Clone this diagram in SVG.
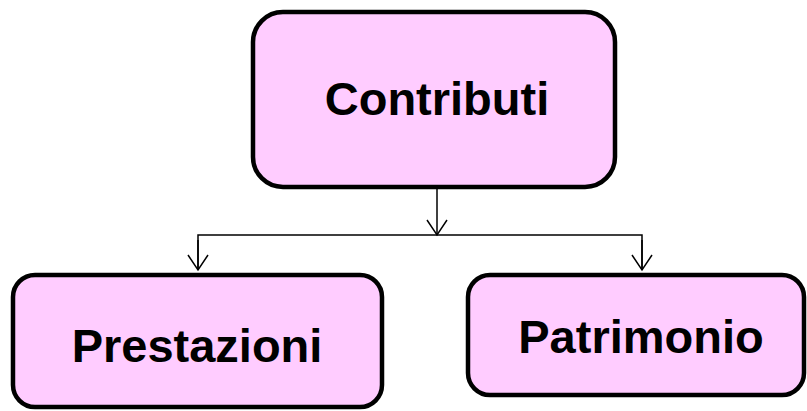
<svg xmlns="http://www.w3.org/2000/svg" width="807" height="411" viewBox="0 0 807 411">
<defs>
<style>
.box{fill:#ffccff;stroke:#000;stroke-width:4.5}
.lbl{font-family:"Liberation Sans",Arial,sans-serif;font-weight:bold;font-size:47px;fill:#000;text-anchor:middle}
.con{fill:none;stroke:#000;stroke-width:1.5}
</style>
<marker id="arr" viewBox="0 0 20 22" refX="17" refY="11" markerWidth="20" markerHeight="22" markerUnits="userSpaceOnUse" orient="auto">
<path d="M2,1 L17,11 L2,21" fill="none" stroke="#000" stroke-width="1.5"/>
</marker>
</defs>
<rect width="807" height="411" fill="#fff"/>
<g id="connectors">
<path class="con" d="M437,188 V235" marker-end="url(#arr)"/>
<path class="con" d="M198,270 V235 H642 V270"/>
<path class="con" d="M198,240 V270" marker-end="url(#arr)"/>
<path class="con" d="M642,240 V270" marker-end="url(#arr)"/>
</g>
<g id="node-contributi">
<rect class="box" x="253" y="12" width="362" height="175" rx="30"/>
<text class="lbl" x="437" y="115">Contributi</text>
</g>
<g id="node-prestazioni">
<rect class="box" x="13" y="275" width="369" height="132" rx="22"/>
<text class="lbl" x="197" y="362">Prestazioni</text>
</g>
<g id="node-patrimonio">
<rect class="box" x="468" y="275" width="336" height="120" rx="22"/>
<text class="lbl" x="641" y="353">Patrimonio</text>
</g>
</svg>
